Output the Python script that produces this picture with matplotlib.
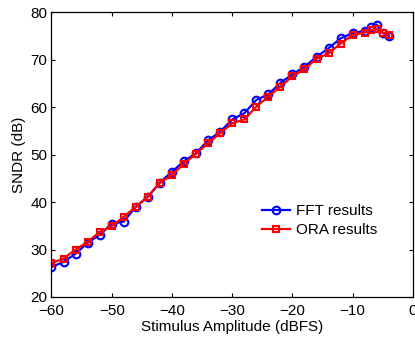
import matplotlib
matplotlib.use("Agg")
import matplotlib.pyplot as plt

amp = [-60, -58, -56, -54, -52, -50, -48, -46, -44, -42, -40, -38, -36, -34, -32, -30,
       -28, -26, -24, -22, -20, -18, -16, -14, -12, -10, -8, -7, -6, -5, -4]
fft = [26.3, 27.4, 29.1, 31.4, 33.1, 35.4, 35.9, 39.0, 41.1, 44.1, 46.4, 48.6, 50.3, 53.0, 54.8, 57.4,
       58.7, 61.5, 62.7, 65.1, 66.9, 68.5, 70.6, 72.4, 74.5, 75.6, 76.1, 76.8, 77.4, 75.6, 75.0]
ora = [27.1, 28.1, 30.0, 31.6, 33.7, 34.9, 36.9, 39.0, 41.1, 44.1, 45.7, 48.1, 50.2, 52.4, 54.5, 56.6,
       57.4, 60.1, 62.2, 64.3, 66.5, 68.0, 70.2, 71.3, 73.4, 75.2, 75.7, 76.2, 76.4, 75.7, 75.3]

plt.rcParams['font.family'] = ['Liberation Sans', 'DejaVu Sans']
fig = plt.figure(figsize=(4.15, 3.39), dpi=100)
ax = fig.add_axes([0.124, 0.124, 0.871, 0.840])
ax.plot(amp, fft, color='#0000ff', lw=1.6, marker='o', ms=5.5, mfc='none', mew=1.5, label='FFT results')
ax.plot(amp, ora, color='#ff0000', lw=1.6, marker='s', ms=4.8, mfc='none', mew=1.5, label='ORA results')
ax.set_xlim(-60, 0)
ax.set_ylim(20, 80)
ax.set_xticks([-60, -50, -40, -30, -20, -10, 0])
ax.set_yticks([20, 30, 40, 50, 60, 70, 80])
ax.tick_params(direction='in', top=True, right=True, labelsize=11, length=3, width=0.8)
ax.tick_params(axis='x', pad=5)
ax.tick_params(axis='y', pad=3)
for s in ax.spines.values():
    s.set_linewidth(0.9)
ax.set_xlabel('Stimulus Amplitude (dBFS)', fontsize=11, labelpad=1.5)
ax.set_ylabel('SNDR (dB)', fontsize=11, labelpad=3)
ax.legend(loc='center left', bbox_to_anchor=(0.583, 0.268), frameon=False, fontsize=11,
          handlelength=1.8, handletextpad=0.4, labelspacing=0.3, borderpad=0, borderaxespad=0)
fig.savefig('out.png', dpi=100)
